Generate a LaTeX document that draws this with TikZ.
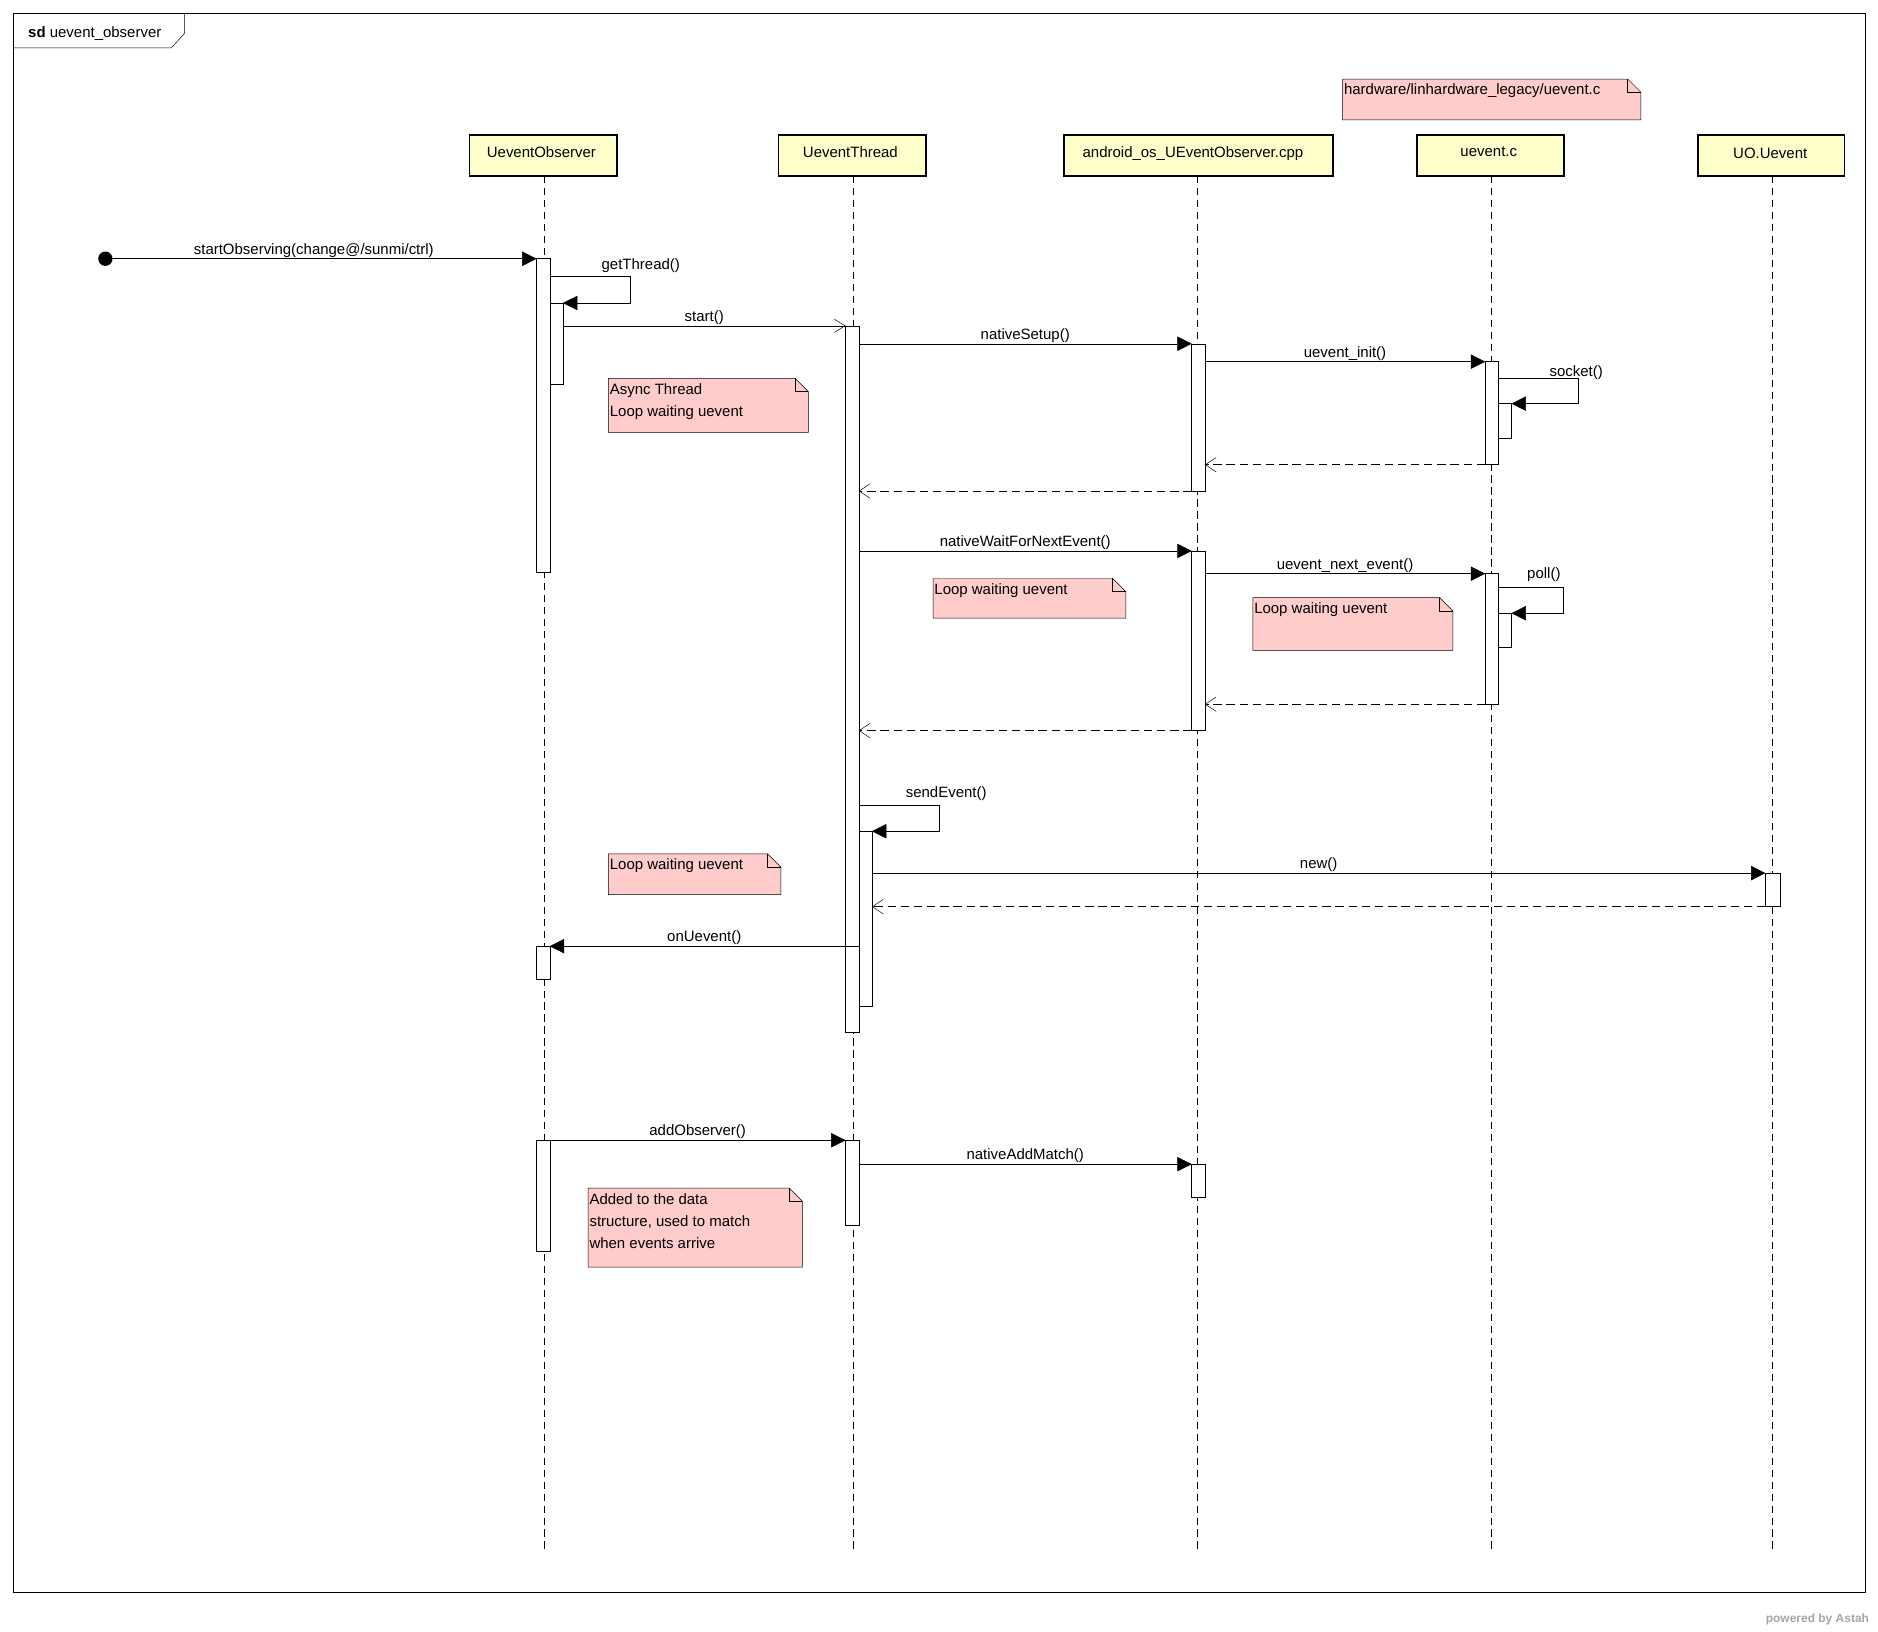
\documentclass[tikz,border=0pt]{standalone}
\usepackage{fontspec}
\setmainfont{Liberation Sans}
\usetikzlibrary{arrows.meta}
\definecolor{hd}{HTML}{FFFFCC}
\definecolor{nt}{HTML}{FFCCCC}
\begin{document}
\begin{tikzpicture}[x=1pt,y=-1pt,font=\fontsize{12.5}{14}\selectfont,
  head/.style={draw,line width=1.6pt,fill=hd,anchor=north west,inner sep=0pt},
  life/.style={dashed,dash pattern=on 6pt off 4pt},
  act/.style={draw,fill=white},
  sync/.style={-{Triangle[length=12pt,width=12pt]}},
  async/.style={-{Straight Barb[length=9pt,width=11pt]}},
  ret/.style={dashed,dash pattern=on 7pt off 4pt,-{Straight Barb[length=9pt,width=12pt]}},
  lbl/.style={above,inner sep=1pt}]
\useasboundingbox (0,0) rectangle (1568,1362);
% frame
\draw (11,11) rectangle (1557,1329);
\draw (11,40) -- (143,40) -- (154,28) -- (154,11);
\node[anchor=west] (sd) at (20,28) {\textbf{sd} uevent\_observer};
% lifelines
\foreach \n/\x in {uo/454,ut/712,an/1000,uc/1245,ue/1480}{\coordinate (\n top) at (\x,147); \coordinate (\n bot) at (\x,1295); \draw[life] (\n top) -- (\n bot);}
\draw[head] (392,113) rectangle (515,147); \node (huo) at (452,127) {UeventObserver};
\draw[head] (650,113) rectangle (773,147); \node (hut) at (710,127) {UeventThread};
\draw[head] (888,113) rectangle (1113,147); \node (han) at (996,128) {android\_os\_UEventObserver.cpp};
\draw[head] (1183,113) rectangle (1306,147); \node (huc) at (1243,127) {uevent.c};
\draw[head] (1418,113) rectangle (1540,147); \node (hue) at (1478,128) {UO.Uevent};
% notes
\newcommand\note[5]{\draw[fill=nt] (#1,#2) -- (#3-11,#2) -- (#3,#2+11) -- (#3,#4) -- (#1,#4) -- cycle; \draw (#3-11,#2) -- (#3-11,#2+11) -- (#3,#2+11);
  \node[anchor=north west,align=left,inner sep=1pt,font=\fontsize{12.5}{18.5}\selectfont] at (#1,#2+3) {#5};}
\note{1121}{66}{1370}{100}{hardware/linhardware\_legacy/uevent.c}
\note{508}{316}{675}{361}{Async Thread\\Loop waiting uevent}
\note{779}{483}{940}{516}{Loop waiting uevent}
\note{1046}{499}{1213}{543}{Loop waiting uevent}
\note{508}{713}{652}{747}{Loop waiting uevent}
\note{491}{992}{670}{1058}{Added to the data\\structure, used to match\\when events arrive}
% activations
\draw[act] (448,216) rectangle (459,478);
\draw[act] (459,253) rectangle (470,321);
\draw[act] (448,790) rectangle (459,818);
\draw[act] (448,952) rectangle (459,1045);
\draw[act] (706,272) rectangle (717,862);
\draw[act] (717,694) rectangle (728,840);
\draw[act] (706,952) rectangle (717,1023);
\draw[act] (995,287) rectangle (1006,410);
\draw[act] (995,460) rectangle (1006,610);
\draw[act] (995,972) rectangle (1006,1000);
\draw[act] (1240,302) rectangle (1251,388);
\draw[act] (1251,337) rectangle (1262,366);
\draw[act] (1240,479) rectangle (1251,588);
\draw[act] (1251,512) rectangle (1262,540);
\draw[act] (1474,729) rectangle (1486,757);
% messages
\fill (88,216) circle (6pt);
\coordinate (st) at (88,216); \coordinate (en) at (448,216);
\draw[sync] (st) -- node[lbl,xshift=-6pt]{startObserving(change@/sunmi/ctrl)} (en);
\draw[sync] (459,231) -- (526,231) -- (526,253) -- (470,253);
\node[lbl] (l1) at (535,229) {getThread()};
\draw[async] (470,272) -- node[lbl]{start()} (706,272);
\draw[sync] (717,287) -- node[lbl]{nativeSetup()} (995,287);
\draw[sync] (1006,302) -- node[lbl]{uevent\_init()} (1240,302);
\draw[sync] (1251,316) -- (1318,316) -- (1318,337) -- (1262,337);
\node[lbl] (l2) at (1316,318) {socket()};
\draw[ret] (1240,388) -- (1006,388);
\draw[ret] (995,410) -- (717,410);
\draw[sync] (717,460) -- node[lbl]{nativeWaitForNextEvent()} (995,460);
\draw[sync] (1006,479) -- node[lbl]{uevent\_next\_event()} (1240,479);
\draw[sync] (1251,490) -- (1305,490) -- (1305,512) -- (1262,512);
\node[lbl] (l3) at (1289,487) {poll()};
\draw[ret] (1240,588) -- (1006,588);
\draw[ret] (995,610) -- (717,610);
\draw[sync] (717,672) -- (784,672) -- (784,694) -- (728,694);
\node[lbl] (l4) at (790,670) {sendEvent()};
\draw[sync] (728,729) -- node[lbl]{new()} (1474,729);
\draw[ret] (1474,757) -- (728,757);
\draw[sync] (717,790) -- node[lbl]{onUevent()} (459,790);
\draw[sync] (459,952) -- node[lbl]{addObserver()} (706,952);
\draw[sync] (717,972) -- node[lbl]{nativeAddMatch()} (995,972);
\node[anchor=east,text=gray!70,font=\fontsize{10}{12}\selectfont\bfseries] (pw) at (1564,1352) {powered by Astah};
\end{tikzpicture}
\end{document}
